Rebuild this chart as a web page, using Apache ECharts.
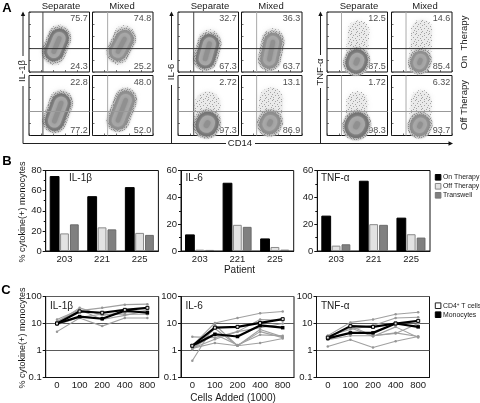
<!DOCTYPE html>
<html><head><meta charset="utf-8">
<style>html,body{margin:0;padding:0;background:#fff}#c{width:480px;height:403px}</style>
<script src="https://cdn.jsdelivr.net/npm/echarts@6/dist/echarts.min.js"></script>
</head><body><div id="c"></div>
<script>
// ---- Panel A values: quadrant percentages [upper, lower], columns left to right, per row
const statsOn  = [["75.7","24.3"],["74.8","25.2"],["32.7","67.3"],["36.3","63.7"],["12.5","87.5"],["14.6","85.4"]];
const statsOff = [["22.8","77.2"],["48.0","52.0"],["2.72","97.3"],["13.1","86.9"],["1.72","98.3"],["6.32","93.7"]];
// population cores: [x0,y0,x1,y1]
const coresOn  = [[41,34,50,56],[42,34,53,55],[45,22,52,47],[46,21,52,50],[48,15,50,20],[46,15,48,20]];
const coresOff = [[42,24,53,54],[42,25,55,59],[47,17,49,21],[46,19,48,23],[48,15,50,19],[46,15,48,19]];
// sparse upper plume of each population: [x0,y0,x1,y1]
const plumeOn  = [[41,30,50,60],[42,30,53,60],[45,22,52,52],[46,21,52,55],[49,20,52,68],[47,20,50,70]];
const plumeOff = [[42,24,53,58],[42,25,55,62],[48,20,49,52],[47,20,49,60],[49,20,50,56],[47,20,49,58]];
const gatesV = [23,25,26,25,24,24];
const gatesH = [39,40];

// ---- Panel B
const patients = ["203","221","225"];
const barNames = ["On Therapy","Off Therapy","Transwell"];
const il1On=[74,54,63], il1Off=[17.5,23.5,18], il1Tw=[26.5,21.5,16];
const il6On=[12,50.5,9], il6Off=[1,19.5,3], il6Tw=[0.8,18,1];
const tnfOn=[26,52,24.5], tnfOff=[4,20,12.5], tnfTw=[5,19.5,10];

// ---- Panel C
const cellsAdded = ["0","100","200","400","800"];
const il1Cd4=[10,28,25,32,38], il1Mono=[10,18,15,30,25];
const il1Gray=[[12,30,38,50,52],[11,38,20,25,30],[5,16,8,16,16],[9,17,22,22,22],[14,32,14,20,30]];
const il6Cd4=[1.5,7,7.5,10.5,14.5], il6Mono=[1.5,4,3.3,8.5,7];
const il6Gray=[[1.5,10.5,16,24,28],[3.2,3,5,14,13],[1.1,6.5,1.5,6,3.2],[0.42,9,1.5,5,3],[1.2,1.9,1.5,1.9,2.8],[1.2,2.6,5,7,10],[1.2,4,1.6,3.8,3.5]];
const tnfCd4=[3,8,7.5,10,12.5], tnfMono=[2.8,4.5,4.5,10,7.5];
const tnfGray=[[3.5,11,14,22,26],[3.5,6,8.5,16,17],[1.4,2.5,1.3,2.2,3.3],[3,7,3.3,7.5,3],[2.5,3.5,3.5,4.3,10],[3,8,3.5,4.5,3.3]];

const FONT='"Liberation Sans",Arial,sans-serif', INK='#1a1a1a';
// fixed speckle textures (style only)
function tex(rows,ink){
  const n=rows[0].length,c=document.createElement('canvas');c.width=n;c.height=rows.length;
  const g=c.getContext('2d');g.fillStyle=ink;
  rows.forEach((r,y)=>{for(let x=0;x<n;x++)if(r[x]==='#')g.fillRect(x,y,1,1);});
  return {image:c,repeat:'repeat'};
}
const sparse=tex(["#.......#....","....#.......#","..#.....#....","......#......",".#........#..","....#........","........#...#","..#..#.......","...........#.","#.....#......",".....#....#.."],'#a4a4a4');
const dense=tex(["#..#..#.#.#..",".#...#....#.#","..#.#..#.#...","#....#...#.#.",".#.#...#...#.","...#.#...#..#","#.#....#.#...","...#.#.....#.",".#.....#.#..#","#..#.#....#..","..#...#.#..#."],'#909090');

const chart=echarts.init(document.getElementById('c'),null,{renderer:'canvas'});
const grids=[],xAxes=[],yAxes=[],series=[];
function addGrid(l,t,w,h,x,y,bw){
  grids.push({left:l,top:t,width:w,height:h,show:true,borderColor:'#111',borderWidth:bw||1,backgroundColor:'transparent',containLabel:false});
  x.gridIndex=y.gridIndex=grids.length-1; xAxes.push(x); yAxes.push(y); return grids.length-1;
}
// Panel A
const colX=[29,92.5,178,241.5,327,391.5], rowY=[12,75.5], pw=60.5, ph=60;
const ringW=[19,18,19,18,21,18], ringWOff=[19,18,22,20,23,19];
const ringDark=[1,0,1,0,1,0];
function flowAxis(){return {type:'value',min:0,max:100,interval:20,axisLine:{show:false},splitLine:{show:false},axisLabel:{show:false},
  axisTick:{show:true,inside:true,length:2,lineStyle:{color:'#333',width:.7}}};}
function seg(i,c,width,color,op,blur){
  series.push({type:'line',xAxisIndex:i,yAxisIndex:i,symbol:'none',silent:true,data:[[c[0],c[1]],[c[2],c[3]]],
    lineStyle:{width:width,color:color,opacity:op,cap:'round',shadowBlur:blur||0,shadowColor:typeof color==='string'?color:'transparent'}});
}
[[statsOn,coresOn,plumeOn,ringW],[statsOff,coresOff,plumeOff,ringWOff]].forEach((r,ri)=>{
  r[0].forEach((st,ci)=>{
    const i=addGrid(colX[ci],rowY[ri],pw,ph,flowAxis(),flowAxis());
    const W=r[3][ci], d=ringDark[ci], tnf=ci>=4, c=r[1][ci], p=r[2][ci];
    seg(i,p,tnf?21:W+4,'#e6e6e6',.6,5);
    seg(i,p,tnf?22:W+4,sparse,1,0);
    seg(i,c,W+5,'#c4c4c4',.7,2);
    seg(i,c,W+5,dense,1,0);
    seg(i,c,W,d?'#747474':'#8c8c8c',1,2);
    seg(i,c,W*.68,'#a8a8a8',1,3);
    seg(i,c,W*.25,'#8f8f8f',.9,3);
    const vcol=(ci===0||ci===2)?'#444':'#aaa', hcol=ri===0?'#333':'#999';
    series.push({type:'line',xAxisIndex:i,yAxisIndex:i,symbol:'none',silent:true,data:[[gatesV[ci],0],[gatesV[ci],100]],lineStyle:{width:1,color:vcol}});
    series.push({type:'line',xAxisIndex:i,yAxisIndex:i,symbol:'none',silent:true,data:[[0,gatesH[ri]],[100,gatesH[ri]]],lineStyle:{width:1,color:hcol}});
    series.push({type:'scatter',xAxisIndex:i,yAxisIndex:i,symbolSize:0,silent:true,
      data:[{value:[97,89],name:st[0]},{value:[97,9],name:st[1]}],
      label:{show:true,position:'left',distance:0,formatter:'{b}',fontFamily:FONT,fontSize:9,color:INK}});
  });
});
// Panel B
const barGroups=[
 {l:45.7,max:80,d:[il1On,il1Off,il1Tw]},
 {l:181,max:60,d:[il6On,il6Off,il6Tw]},
 {l:317.3,max:60,d:[tnfOn,tnfOff,tnfTw]}];
const barStyles=[{color:'#000',borderColor:'#000'},{color:'#e2e2e2',borderColor:'#8a8a8a',borderWidth:1},{color:'#808080',borderColor:'#6a6a6a',borderWidth:1}];
barGroups.forEach(g=>{
  const i=addGrid(g.l,170.5,112.7,80.5,
   {type:'category',data:patients,axisLine:{lineStyle:{color:'#111'}},axisTick:{length:2,lineStyle:{color:'#111'}},
    axisLabel:{fontFamily:FONT,fontSize:9.5,color:INK,margin:3}},
   {type:'value',min:0,max:g.max,interval:20,splitLine:{show:false},axisLine:{show:true,lineStyle:{color:'#111'}},
    axisTick:{show:true,length:3,lineStyle:{color:'#111'}},minorTick:{show:true,splitNumber:2,length:2,lineStyle:{color:'#111'}},minorSplitLine:{show:false},
    axisLabel:{fontFamily:FONT,fontSize:9.5,color:INK,margin:4}});
  g.d.forEach((v,k)=>series.push({type:'bar',name:barNames[k],xAxisIndex:i,yAxisIndex:i,data:v,barWidth:8.8,barGap:'12%',itemStyle:barStyles[k],silent:true}));
});
// Panel C
const lineGroups=[
 {l:45.7,cd4:il1Cd4,mono:il1Mono,gray:il1Gray},
 {l:181,cd4:il6Cd4,mono:il6Mono,gray:il6Gray},
 {l:316.5,cd4:tnfCd4,mono:tnfMono,gray:tnfGray}];
lineGroups.forEach(g=>{
  const i=addGrid(g.l,296.5,113,81,
   {type:'category',data:cellsAdded,axisLine:{lineStyle:{color:'#111'}},axisTick:{length:2,lineStyle:{color:'#111'}},
    axisLabel:{fontFamily:FONT,fontSize:9.5,color:INK,margin:3}},
   {type:'log',logBase:10,min:.1,max:100,axisLine:{show:true,lineStyle:{color:'#111'}},axisTick:{show:true,length:3,lineStyle:{color:'#111'}},
    minorTick:{show:false},splitLine:{show:true,lineStyle:{color:'#5a5a5a',width:1}},
    axisLabel:{fontFamily:FONT,fontSize:9.5,color:INK,margin:4,formatter:v=>String(+(+v).toPrecision(3))}});
  g.gray.forEach(v=>series.push({type:'line',xAxisIndex:i,yAxisIndex:i,data:v,symbol:'circle',symbolSize:2.5,silent:true,
    lineStyle:{width:1.1,color:'#a0a0a0'},itemStyle:{color:'#969696'}}));
  series.push({type:'line',name:'Monocytes',xAxisIndex:i,yAxisIndex:i,data:g.mono,symbol:'rect',symbolSize:3.5,silent:true,
    lineStyle:{width:2.2,color:'#000'},itemStyle:{color:'#000'}});
  series.push({type:'line',name:'CD4+ T cells',xAxisIndex:i,yAxisIndex:i,data:g.cd4,symbol:'rect',symbolSize:3,silent:true,
    lineStyle:{width:2.2,color:'#000'},itemStyle:{color:'#ddd',borderColor:'#000',borderWidth:1}});
});
// Text and arrows
function T(x,y,text,o){return {type:'text',x:x,y:y,silent:true,style:Object.assign({text:text,fontFamily:FONT,fontSize:9.5,fill:INK,textAlign:'center',textVerticalAlign:'middle'},o||{})};}
function TR(x,y,text,o){const t=T(x,y,text,o);t.rotation=Math.PI/2;return t;}
function L(x1,y1,x2,y2){return {type:'line',silent:true,shape:{x1,y1,x2,y2},style:{stroke:'#222',lineWidth:1}};}
function Arrow(pts){return {type:'polygon',silent:true,shape:{points:pts},style:{fill:'#111'}};}
function Key(x,y,fill,stroke){return {type:'rect',silent:true,shape:{x:x,y:y-2.8,width:5.6,height:5.6},style:{fill:fill,stroke:stroke,lineWidth:1}};}
const B13={fontSize:13,fontWeight:'bold',fill:'#000'}, TL={textAlign:'left',fontSize:10}, KL={textAlign:'left',fontSize:6.9};
const head=[
 T(7,8,'A',B13),T(7,161,'B',B13),T(6,290,'C',B13),
 T(61,6.5,'Separate'),T(122,6.5,'Mixed'),T(210,6.5,'Separate'),T(271,6.5,'Mixed'),T(359,6.5,'Separate'),T(425,6.5,'Mixed'),
 TR(22.5,71,'IL-1β'),TR(171.5,72,'IL-6'),TR(320.5,72,'TNF-α'),
 TR(464,42,'On  Therapy'),TR(464,105,'Off Therapy'),
 T(240,143.5,'CD14'),
 L(23,86,23,143.5),L(23,15,23,56),L(171.5,15,171.5,60),L(171.5,85,171.5,143.5),L(320.5,15,320.5,55),L(320.5,88,320.5,143.5),
 L(23,143.5,226,143.5),L(255,143.5,450,143.5),
 Arrow([[23,11.5],[20.8,16],[25.2,16]]),Arrow([[171.5,11.5],[169.3,16],[173.7,16]]),Arrow([[320.5,11.5],[318.3,16],[322.7,16]]),Arrow([[453,143.5],[448.5,141.3],[448.5,145.7]]),
 TR(23,212,'% cytokine(+) monocytes',{fontSize:9}),TR(23,338,'% cytokine(+) monocytes',{fontSize:9}),
 T(239.5,270,'Patient',{fontSize:10}),T(233,398,'Cells Added (1000)',{fontSize:10}),
 T(69,178.5,'IL-1β',TL),T(185.5,178.5,'IL-6',TL),T(321,178.5,'TNF-α',TL),
 T(50,306,'IL-1β',TL),T(185.5,306,'IL-6',TL),T(321,306,'TNF-α',TL),
 Key(435.3,177.3,'#000','#000'),Key(435.3,186.3,'#e2e2e2','#888'),Key(435.3,195.3,'#808080','#777'),
 T(443,177.3,barNames[0],KL),T(443,186.3,barNames[1],KL),T(443,195.3,barNames[2],KL),
 Key(435.3,305.7,'#fff','#222'),Key(435.3,314.7,'#000','#000'),
 {type:'text',x:443,y:305.7,silent:true,style:{text:'CD4{s|+} T cells',fontFamily:FONT,fontSize:6.9,fill:INK,textAlign:'left',textVerticalAlign:'middle',rich:{s:{fontSize:4.5,fontFamily:FONT,fill:INK,verticalAlign:'top'}}}},
 T(443,314.7,'Monocytes',KL)
];
chart.setOption({
  animation:false,backgroundColor:'#fff',
  grid:grids,xAxis:xAxes,yAxis:yAxes,series:series,graphic:head
});
</script></body></html>
